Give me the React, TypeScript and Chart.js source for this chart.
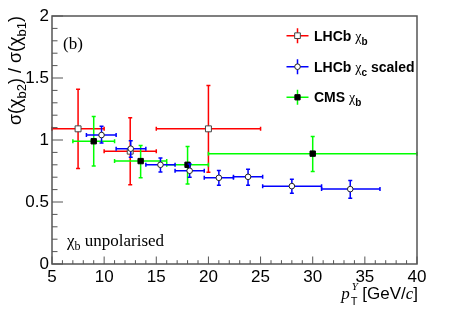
import React, { useEffect, useRef } from 'react';
import { Chart, registerables } from 'chart.js';
Chart.register(...registerables);

// LHCb chi_b (red, open squares)
const lhcbBX = [7.5, 12.5, 20];
const lhcbBXLow = [5, 10, 15];
const lhcbBXHigh = [10, 15, 25];
const lhcbBY = [1.09, 0.91, 1.09];
const lhcbBYLow = [0.77, 0.64, 0.74];
const lhcbBYHigh = [1.41, 1.18, 1.44];

// LHCb chi_c scaled (blue, open circles)
const lhcbCX = [9.75, 12.55, 15.4, 18.2, 21.0, 23.8, 28.0, 33.6];
const lhcbCXLow = [8.3, 11.15, 14.0, 16.8, 19.6, 22.4, 25.2, 30.85];
const lhcbCXHigh = [11.15, 14.0, 16.8, 19.6, 22.4, 25.2, 30.85, 36.45];
const lhcbCY = [1.04, 0.93, 0.8, 0.752, 0.695, 0.703, 0.628, 0.604];
const lhcbCYLow = [0.975, 0.86, 0.741, 0.7, 0.636, 0.636, 0.571, 0.531];
const lhcbCYHigh = [1.11, 0.994, 0.854, 0.806, 0.754, 0.765, 0.684, 0.673];

// CMS chi_b (green, filled squares)
const cmsX = [9, 13.5, 18, 30];
const cmsXLow = [7, 11, 16, 20];
const cmsXHigh = [11, 16, 20, 40];
const cmsY = [0.99, 0.83, 0.8, 0.89];
const cmsYLow = [0.79, 0.695, 0.646, 0.746];
const cmsYHigh = [1.19, 0.956, 0.948, 1.029];

const xTicks = [5, 10, 15, 20, 25, 30, 35, 40];
const yTicks = [0, 0.5, 1, 1.5, 2];

const SANS = '"Liberation Sans", Arial, sans-serif';
const SERIF = '"Liberation Serif", "Times New Roman", serif';

function pts(xs: number[], xl: number[], xh: number[], ys: number[], yl: number[], yh: number[]) {
  return xs.map((x, i) => ({ x, y: ys[i], xMin: xl[i], xMax: xh[i], yMin: yl[i], yMax: yh[i] }));
}

type Part = { t: string; f: string; dy?: number };

function richWidth(ctx: CanvasRenderingContext2D, parts: Part[]) {
  let w = 0;
  for (const p of parts) {
    ctx.font = p.f;
    w += ctx.measureText(p.t).width;
  }
  return w;
}

function drawRich(ctx: CanvasRenderingContext2D, parts: Part[], x: number, y: number) {
  let cx = x;
  for (const p of parts) {
    ctx.font = p.f;
    ctx.fillText(p.t, cx, y + (p.dy || 0));
    cx += ctx.measureText(p.t).width;
  }
}

const errorBarPlugin = {
  id: 'errorBars',
  beforeDatasetDraw(chart: any, args: any) {
    const ds = chart.data.datasets[args.index];
    const { ctx, scales } = chart;
    const xs = scales.x, ys = scales.y;
    ctx.save();
    ctx.strokeStyle = ds.errColor;
    ctx.lineWidth = 1.5;
    const c = 2;
    ds.data.forEach((p: any) => {
      const px = xs.getPixelForValue(p.x), py = ys.getPixelForValue(p.y);
      const x0 = xs.getPixelForValue(p.xMin), x1 = xs.getPixelForValue(p.xMax);
      const y0 = ys.getPixelForValue(p.yMin), y1 = ys.getPixelForValue(p.yMax);
      ctx.beginPath();
      ctx.moveTo(x0, py); ctx.lineTo(x1, py);
      ctx.moveTo(px, y0); ctx.lineTo(px, y1);
      ctx.moveTo(x0, py - c); ctx.lineTo(x0, py + c);
      ctx.moveTo(x1, py - c); ctx.lineTo(x1, py + c);
      ctx.moveTo(px - c, y0); ctx.lineTo(px + c, y0);
      ctx.moveTo(px - c, y1); ctx.lineTo(px + c, y1);
      ctx.stroke();
    });
    ctx.restore();
  },
};

const framePlugin = {
  id: 'frameAndText',
  afterDraw(chart: any) {
    const { ctx, chartArea: a, scales } = chart;
    const xs = scales.x, ys = scales.y;
    ctx.save();
    // frame
    ctx.strokeStyle = '#555';
    ctx.lineWidth = 1.5;
    ctx.strokeRect(a.left, a.top, a.right - a.left, a.bottom - a.top);
    // ticks
    ctx.lineWidth = 1;
    ctx.beginPath();
    for (let v = 5; v <= 40.001; v += 1) {
      const px = xs.getPixelForValue(v);
      const major = Math.abs(v % 5) < 1e-6;
      ctx.moveTo(px, a.bottom);
      ctx.lineTo(px, a.bottom - (major ? 7.5 : 3.8));
    }
    for (let k = 0; k <= 20; k++) {
      const v = k / 10;
      const py = ys.getPixelForValue(v);
      const major = k % 5 === 0;
      ctx.moveTo(a.left, py);
      ctx.lineTo(a.left + (major ? 11 : 5.5), py);
    }
    ctx.stroke();

    ctx.fillStyle = '#000';
    ctx.textBaseline = 'alphabetic';
    ctx.textAlign = 'left';

    // (b)
    drawRich(ctx, [{ t: '(b)', f: `17px ${SERIF}` }], 63, 49);

    // chi_b unpolarised
    drawRich(ctx, [
      { t: 'χ', f: `17px ${SERIF}` },
      { t: 'b', f: `12px ${SERIF}`, dy: 4 },
      { t: ' unpolarised', f: `17px ${SERIF}` },
    ], 67, 246);

    // x title
    const xt: Part[] = [
      { t: 'p', f: `italic 17px ${SERIF}` },
    ];
    const sub: Part = { t: 'T', f: `11px ${SANS}`, dy: 6 };
    const sup: Part = { t: 'Υ', f: `italic 11px ${SERIF}`, dy: -9 };
    const rest: Part[] = [
      { t: ' [GeV/', f: `17px ${SANS}` },
      { t: 'c', f: `italic 17px ${SERIF}` },
      { t: ']', f: `17px ${SANS}` },
    ];
    const wp = richWidth(ctx, xt);
    const wss = Math.max(richWidth(ctx, [sub]), richWidth(ctx, [sup])) + 1;
    const wr = richWidth(ctx, rest);
    const total = wp + wss + wr;
    const bx = a.right + 1 - total;
    const by = 299;
    drawRich(ctx, xt, bx, by);
    drawRich(ctx, [sub], bx + wp + 1, by);
    drawRich(ctx, [sup], bx + wp + 2, by);
    drawRich(ctx, rest, bx + wp + wss, by);

    // y title (rotated)
    const yt: Part[] = [
      { t: 'σ(χ', f: `18px ${SANS}` },
      { t: 'b2', f: `13px ${SANS}`, dy: 5 },
      { t: ') / σ(χ', f: `18px ${SANS}` },
      { t: 'b1', f: `13px ${SANS}`, dy: 5 },
      { t: ')', f: `18px ${SANS}` },
    ];
    const yw = richWidth(ctx, yt);
    ctx.save();
    ctx.translate(21, a.top);
    ctx.rotate(-Math.PI / 2);
    drawRich(ctx, yt, -yw, 0);
    ctx.restore();

    // legend
    const rows = [
      { y: 35.7, col: '#ff0000', style: 'rect', fill: '#fff', border: '#444', r: 4, parts: [
        { t: 'LHCb ', f: `bold 14px ${SANS}` },
        { t: 'χ', f: `14px ${SERIF}` },
        { t: 'b', f: `bold 10px ${SANS}`, dy: 4 },
      ] },
      { y: 66.7, col: '#0000ff', style: 'circle', fill: '#fff', border: '#222', r: 2.8, parts: [
        { t: 'LHCb ', f: `bold 14px ${SANS}` },
        { t: 'χ', f: `14px ${SERIF}` },
        { t: 'c', f: `bold 10px ${SANS}`, dy: 4 },
        { t: ' scaled', f: `bold 14px ${SANS}` },
      ] },
      { y: 97.3, col: '#00ff00', style: 'rect', fill: '#000', border: '#000', r: 3.7, parts: [
        { t: 'CMS ', f: `bold 14px ${SANS}` },
        { t: 'χ', f: `14px ${SERIF}` },
        { t: 'b', f: `bold 10px ${SANS}`, dy: 4 },
      ] },
    ];
    const lx = 297.5;
    rows.forEach((r) => {
      ctx.strokeStyle = r.col;
      ctx.lineWidth = 1.5;
      ctx.beginPath();
      ctx.moveTo(lx - 11, r.y); ctx.lineTo(lx + 11, r.y);
      ctx.moveTo(lx, r.y - 7.5); ctx.lineTo(lx, r.y + 7.5);
      ctx.stroke();
      ctx.fillStyle = r.fill;
      ctx.strokeStyle = r.border;
      ctx.lineWidth = 1;
      ctx.beginPath();
      if (r.style === 'circle') {
        ctx.arc(lx, r.y, r.r, 0, Math.PI * 2);
      } else {
        const s = r.r * Math.SQRT1_2;
        ctx.rect(lx - s, r.y - s, 2 * s, 2 * s);
      }
      ctx.fill();
      ctx.stroke();
      ctx.fillStyle = '#000';
      drawRich(ctx, r.parts, 314, r.y + 5);
    });

    ctx.restore();
  },
};

export default function App() {
  const ref = useRef<HTMLCanvasElement | null>(null);

  useEffect(() => {
    if (!ref.current) return;
    const chart = new Chart(ref.current, {
      type: 'scatter',
      data: {
        datasets: [
          {
            label: 'LHCb χb',
            data: pts(lhcbBX, lhcbBXLow, lhcbBXHigh, lhcbBY, lhcbBYLow, lhcbBYHigh),
            pointStyle: 'rect',
            pointRadius: 4.2,
            pointBackgroundColor: '#fff',
            pointBorderColor: '#444',
            pointBorderWidth: 1,
            order: 3,
            errColor: '#ff0000',
          } as any,
          {
            label: 'CMS χb',
            data: pts(cmsX, cmsXLow, cmsXHigh, cmsY, cmsYLow, cmsYHigh),
            pointStyle: 'rect',
            pointRadius: 3.8,
            pointBackgroundColor: '#000',
            pointBorderColor: '#000',
            pointBorderWidth: 1,
            order: 2,
            errColor: '#00ff00',
          } as any,
          {
            label: 'LHCb χc scaled',
            data: pts(lhcbCX, lhcbCXLow, lhcbCXHigh, lhcbCY, lhcbCYLow, lhcbCYHigh),
            pointStyle: 'circle',
            pointRadius: 2.8,
            pointBackgroundColor: '#fff',
            pointBorderColor: '#222',
            pointBorderWidth: 1,
            order: 1,
            errColor: '#0000ff',
          } as any,
        ],
      },
      options: {
        animation: false,
        responsive: false,
        devicePixelRatio: 1,
        events: [],
        layout: { padding: { top: 16, right: 40, left: 0, bottom: 0 } },
        plugins: { legend: { display: false }, tooltip: { enabled: false } },
        scales: {
          x: {
            type: 'linear',
            min: 5,
            max: 40,
            afterFit: (s: any) => { s.height = 45; },
            afterBuildTicks: (s: any) => { s.ticks = xTicks.map((v) => ({ value: v })); },
            grid: { display: false, drawTicks: false },
            border: { display: false },
            ticks: { color: '#000', padding: 3, font: { family: SANS, size: 17 }, maxRotation: 0, autoSkip: false, callback: (v: any) => String(v) },
          },
          y: {
            type: 'linear',
            min: 0,
            max: 2,
            afterFit: (s: any) => { s.width = 52; },
            afterBuildTicks: (s: any) => { s.ticks = yTicks.map((v) => ({ value: v })); },
            grid: { display: false, drawTicks: false },
            border: { display: false },
            ticks: { color: '#000', padding: 3, font: { family: SANS, size: 17 }, autoSkip: false, callback: (v: any) => String(v) },
          },
        },
      } as any,
      plugins: [errorBarPlugin, framePlugin],
    });
    return () => chart.destroy();
  }, []);

  return (
    <div style={{ position: 'fixed', left: 0, top: 0, width: 457, height: 309, background: '#fff' }}>
      <canvas ref={ref} width={457} height={309} style={{ width: 457, height: 309, display: 'block' }} />
    </div>
  );
}
